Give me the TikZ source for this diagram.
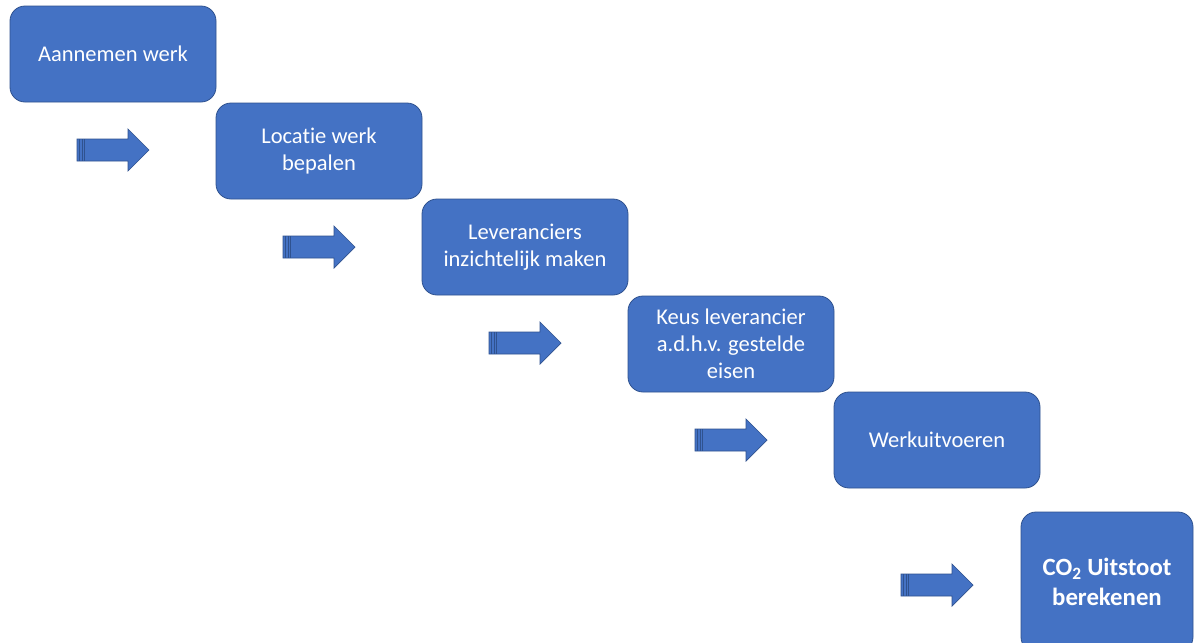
\documentclass[tikz,border=0pt]{standalone}
\usepackage{fontspec}
\setmainfont{Carlito}[Ligatures={NoCommon}]
\definecolor{boxfill}{HTML}{4472C4}
\definecolor{boxline}{HTML}{2F528F}
\tikzset{
  stepbox/.style={draw=boxline, line width=0.8pt, fill=boxfill, rounded corners=15pt,
    text=white, align=center, font=\fontsize{22.5}{27}\selectfont,
    minimum width=206pt, minimum height=96pt},
  arrowbody/.style={draw=boxline, line width=0.7pt, fill=boxfill},
}
\newcommand{\stripedarrow}[2]{%
  \begin{scope}[shift={(#1,#2)}]
    \draw[arrowbody] (0,-11) -- (51,-11) -- (51,-21) -- (72,0) -- (51,21) -- (51,11) -- (0,11) -- cycle;
    \draw[boxline, line width=0.6pt] (2.5,-11) -- (2.5,11) (5,-11) -- (5,11) (7.5,-11) -- (7.5,11);
  \end{scope}}
\begin{document}
\begin{tikzpicture}[x=1pt,y=-1pt]
\useasboundingbox (0,0) rectangle (1195,643);
\fill[white] (0,0) rectangle (1195,643);
\node[stepbox] (b1) at (113,54) {Aannemen werk};
\node[stepbox] (b2) at (319,151) {Locatie werk\\bepalen};
\node[stepbox] (b3) at (525,247) {Leveranciers\\inzichtelijk maken};
\node[stepbox] (b4) at (731,344) {Keus leverancier\\a.d.h.v. gestelde\\eisen};
\node[stepbox] (b5) at (937,440) {Werkuitvoeren};
\node[stepbox, minimum width=172pt, minimum height=140pt, font=\bfseries\fontsize{24.8}{30}\selectfont] (b6) at (1107,582) {CO\textsubscript{2} Uitstoot\\berekenen};
\stripedarrow{77}{150}
\stripedarrow{283}{247}
\stripedarrow{489}{343}
\stripedarrow{695}{440}
\stripedarrow{901}{585}
\end{tikzpicture}
\end{document}
